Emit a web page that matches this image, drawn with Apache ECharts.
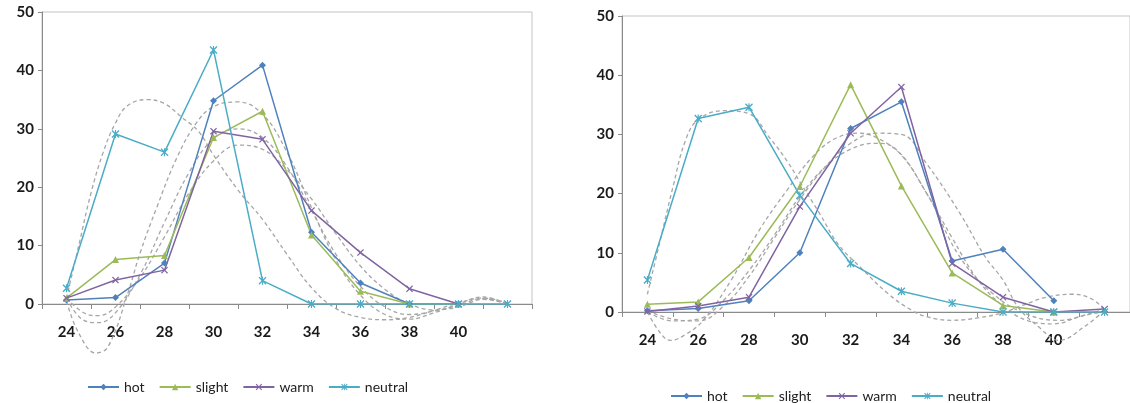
<!DOCTYPE html>
<html>
<head>
<meta charset="utf-8">
<script src="https://cdn.jsdelivr.net/npm/echarts@6/dist/echarts.min.js"></script>
<style>html,body{margin:0;padding:0;background:#fff}#c{width:1130px;height:403px}</style>
</head>
<body>
<div id="c"></div>
<script>
// ---- data ----
const categories = ['24','26','28','30','32','34','36','38','40',''];
const seriesNames = ['hot','slight','warm','neutral'];

// left panel
const hotL     = [0.7, 1.1, 7.0, 34.8, 40.9, 12.3, 3.6, 0, 0, null];
const slightL  = [1.0, 7.6, 8.3, 28.5, 33.0, 11.8, 2.2, 0, 0, null];
const warmL    = [1.0, 4.1, 5.8, 29.6, 28.2, 16.0, 8.8, 2.6, 0, null];
const neutralL = [2.7, 29.1, 26.0, 43.5, 4.0, 0, 0, 0, 0, 0];

// right panel
const hotR     = [0.2, 0.6, 1.9, 10.0, 31.0, 35.5, 8.6, 10.6, 1.9, null];
const slightR  = [1.3, 1.7, 9.2, 21.2, 38.4, 21.3, 6.6, 1.1, 0, null];
const warmR    = [0.1, 1.0, 2.5, 17.8, 30.2, 38.0, 8.2, 2.5, 0, 0.5];
const neutralR = [5.4, 32.7, 34.6, 19.7, 8.2, 3.5, 1.5, 0, 0, 0];

// dashed trend curves: [temperature, value]
const trendL1 = [[24,1],[24.5,10],[25,19],[25.5,26],[26,31],[26.5,34],[27.3,35],[28,34.3],[28.7,32],[29.4,29.5],[30,25.5],[31,19.5],[32,14.5],[33,8.5],[34,2.8],[35,-0.8],[36,-2.3],[37,-2.7],[38,-2.3],[39,-1.1],[40,0.2],[41,1.0],[42,0.2]];
const trendL2 = [[24,0.5],[24.5,-5],[25.2,-8.4],[25.7,-7.3],[26.5,1.8],[27,8.7],[27.7,16.7],[28.5,25],[29.3,31],[30,33.8],[31,34.6],[32,32.5],[33,26],[34,16.5],[35,7.5],[36,1.5],[37,-1.8],[38,-2.6],[39,-1.5],[40,0],[41,1.2],[42,0]];
const trendL3 = [[24,1],[24.6,-2.5],[25.3,-3.2],[26,-1.5],[27,5],[28,14],[29,22.5],[30,28.3],[31,30],[32,28.5],[33,23.5],[34,16],[35,8.5],[36,3],[37,-0.5],[38,-1.8],[39,-1.2],[40,-0.2],[41,0.9],[42,0]];
const trendL4 = [[24,1],[24.7,-1.5],[25.3,-2],[26,-0.5],[27,4.5],[28,11.5],[29,19],[30,24.5],[31,27.2],[32,26.5],[33,23],[34,18],[35,12],[36,6.5],[37,2.5],[38,0],[39,-1],[40,-0.5],[41,0.8],[42,0]];

const trendR1 = [[24,3],[24.5,12],[25,21],[25.5,29],[26,32.5],[27,34],[28,33.5],[28.8,29.5],[29.5,25.5],[30,22],[30.8,16.5],[31.5,11.5],[32.4,7.5],[33.5,3],[34.4,0.3],[35,-0.8],[36,-1.4],[37,-1],[38,-0.1],[39,1.5],[39.7,2.5],[40.7,3],[41.5,2.2],[42,0.3]];
const trendR2 = [[24,0],[24.5,-3.5],[24.9,-4.8],[25.5,-3.8],[26.2,-1.4],[27.3,5.4],[28.4,13.8],[29.5,20.6],[30.5,26.2],[31.4,29.3],[32.3,30.2],[33,29.5],[34,26.5],[35,20],[36,12.5],[37,5.5],[38,1],[39,-1.5],[40,-2],[41,-0.8],[42,0.5]];
const trendR3 = [[24,0.2],[25,-1.2],[26,-1.5],[27,1],[28,6],[29,12.5],[30,19],[31,24.5],[32,28.5],[33,30.2],[34,30],[35,25],[36.3,16.7],[37.3,9.3],[38,5.4],[38.6,0.8],[39.4,-2.5],[40.2,-4.8],[41.2,-2.5],[42,0.3]];
const trendR4 = [[24,0],[25,-1.5],[26,-1.2],[27,2],[28,7],[29,13],[30,19.5],[31,24.5],[32,27.5],[33,28.5],[33.7,27.8],[35,20],[36.3,9.3],[37.6,3.1],[38.9,-0.3],[40.2,-1.4],[41.5,-0.3],[42,0]];

// ---- styling ----
const colors = {hot:'#4F81BD', slight:'#9BBB59', warm:'#8064A2', neutral:'#4BACC6'};
const xSym = 'path://M0,1.2L1.2,0L5,3.8L8.8,0L10,1.2L6.2,5L10,8.8L8.8,10L5,6.2L1.2,10L0,8.8L3.8,5Z';
const starSym = 'path://M0,1.2L1.2,0L5,3.8L8.8,0L10,1.2L6.2,5L10,8.8L8.8,10L5,6.2L1.2,10L0,8.8L3.8,5ZM4.3,0L5.7,0L5.7,10L4.3,10Z';
const symbols = {hot:['diamond',7], slight:['triangle',7], warm:[xSym,7], neutral:[starSym,8]};
const font = 'Lato, "Open Sans", sans-serif';
const axisGray = '#8a8a8a';

function dataSeries(name, data, gi){
  return {
    name, type:'line', data,
    xAxisIndex: gi*2, yAxisIndex: gi,
    symbol: symbols[name][0], symbolSize: symbols[name][1],
    showSymbol:true, connectNulls:false,
    itemStyle:{color:colors[name]},
    lineStyle:{color:colors[name], width:1.5},
    z:3, animation:false
  };
}
function trendSeries(data, gi){
  return {
    name:'trend', type:'line', data, smooth:0.4,
    xAxisIndex: gi*2+1, yAxisIndex: gi,
    symbol:'none', silent:true, clip:false,
    lineStyle:{color:'#a6a6a6', width:1.3, type:[4,3]},
    z:2, animation:false
  };
}
function catAxis(gi){
  return {
    type:'category', gridIndex:gi, data:categories, boundaryGap:true,
    axisLine:{show:true, lineStyle:{color:axisGray, width:1}},
    axisTick:{show:true, interval:0, length:5, lineStyle:{color:axisGray}},
    axisLabel:{interval:0, margin:21, fontSize:15, fontWeight:'bold', color:'#1a1a1a', fontFamily:font},
    splitLine:{show:false}
  };
}
function valXAxis(gi){
  return {type:'value', gridIndex:gi, min:23, max:43, show:false, splitLine:{show:false}};
}
function yAxis(gi){
  return {
    type:'value', gridIndex:gi, min:0, max:50, interval:10,
    axisLine:{show:true, lineStyle:{color:axisGray, width:1}},
    axisTick:{show:true, length:4, lineStyle:{color:axisGray}},
    axisLabel:{margin:8, fontSize:15, fontWeight:'bold', color:'#1a1a1a', fontFamily:font},
    splitLine:{show:false}
  };
}
function legend(left, top){
  return {
    data: seriesNames, left, top, orient:'horizontal',
    itemWidth:31, itemHeight:8, itemGap:14,
    textStyle:{fontSize:14, color:'#222', fontFamily:font},
    selectedMode:false
  };
}

const chart = echarts.init(document.getElementById('c'), null, {renderer:'canvas'});
chart.setOption({
  animation:false,
  backgroundColor:'#ffffff',
  grid:[
    {left:42, top:12, width:490, height:292, show:true, borderColor:'#c4c4c4', borderWidth:1},
    {left:622, top:16, width:515, height:296, show:true, borderColor:'#c4c4c4', borderWidth:1}
  ],
  xAxis:[catAxis(0), valXAxis(0), catAxis(1), valXAxis(1)],
  yAxis:[yAxis(0), yAxis(1)],
  legend:[legend(82, 375), legend(665, 384)],
  series:[
    trendSeries(trendL1,0), trendSeries(trendL2,0), trendSeries(trendL3,0), trendSeries(trendL4,0),
    trendSeries(trendR1,1), trendSeries(trendR2,1), trendSeries(trendR3,1), trendSeries(trendR4,1),
    dataSeries('hot', hotL, 0), dataSeries('slight', slightL, 0), dataSeries('warm', warmL, 0), dataSeries('neutral', neutralL, 0),
    dataSeries('hot', hotR, 1), dataSeries('slight', slightR, 1), dataSeries('warm', warmR, 1), dataSeries('neutral', neutralR, 1)
  ]
});
</script>
</body>
</html>
